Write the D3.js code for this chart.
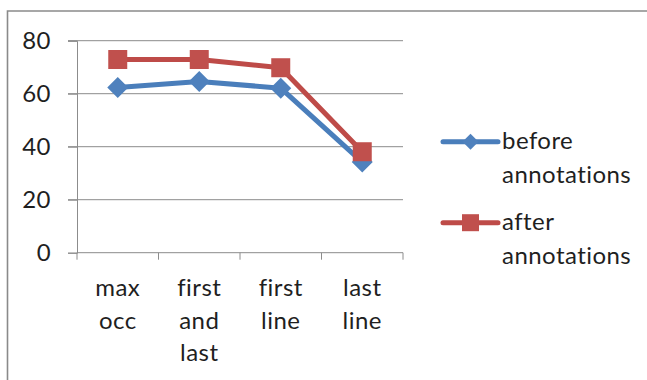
<!DOCTYPE html>
<html>
<head>
<meta charset="utf-8">
<script src="https://cdn.jsdelivr.net/npm/d3@7"></script>
<style>
  html, body { margin: 0; padding: 0; background: #fff; }
  svg { display: block; }
  text { font-family: Lato, "Open Sans", sans-serif; fill: #1f1f1f; font-variant-ligatures: none; letter-spacing: 0.45px; }
</style>
</head>
<body>
<svg id="chart" width="647" height="380"></svg>
<script>
// Category labels (each entry is the list of wrapped lines)
const categories = ["max occ", "first and last", "first line", "last line"];
const categoryLines = [["max", "occ"], ["first", "and", "last"], ["first", "line"], ["last", "line"]];

// Series values
const beforeValues = [62.3, 64.6, 62.1, 34.2];
const afterValues  = [72.9, 72.9, 69.8, 38.1];

const seriesNames = ["before annotations", "after annotations"];
const legendLines = [["before", "annotations"], ["after", "annotations"]];

// Y-axis ticks
const yTicks = [0, 20, 40, 60, 80];

const FONT = 24;

const svg = d3.select("#chart");

const plot = { left: 77, right: 403, top: 40.7, bottom: 252.7 };

const x = d3.scaleBand().domain(categories).range([plot.left, plot.right]).padding(0);
const y = d3.scaleLinear().domain([0, 80]).range([plot.bottom, plot.top]);

// Outer chart frame (top and left edges)
svg.append("path")
  .attr("d", `M7.5,380 L7.5,11 L647,11`)
  .attr("fill", "none")
  .attr("stroke", "#8a8a8a")
  .attr("stroke-width", 1.6);

// Horizontal gridlines
svg.append("g")
  .selectAll("line")
  .data(yTicks.filter(d => d > 0))
  .join("line")
  .attr("x1", plot.left - 9)
  .attr("x2", plot.right)
  .attr("y1", d => y(d))
  .attr("y2", d => y(d))
  .attr("stroke", "#8c8c8c")
  .attr("stroke-width", 1);

// Y axis
const yAxis = svg.append("g")
  .attr("transform", `translate(${plot.left},0)`)
  .call(d3.axisLeft(y).tickValues(yTicks).tickSize(9).tickPadding(17).tickFormat(d3.format("d")));
yAxis.select(".domain").attr("stroke", "#8c8c8c");
yAxis.selectAll(".tick line").attr("stroke", "#8c8c8c");
yAxis.selectAll(".tick text")
  .style("font-family", "Lato, 'Open Sans', sans-serif")
  .attr("font-size", FONT)
  .attr("fill", "#1f1f1f");

// X axis line with boundary ticks
const xAxisG = svg.append("g").attr("transform", `translate(0,${plot.bottom})`);
xAxisG.append("line")
  .attr("x1", plot.left).attr("x2", plot.right)
  .attr("stroke", "#8c8c8c").attr("stroke-width", 1);
const boundaries = categories.map(c => x(c)).concat([x(categories[categories.length - 1]) + x.bandwidth()]);
xAxisG.selectAll(".bt")
  .data(boundaries)
  .join("line")
  .attr("class", "bt")
  .attr("x1", d => d).attr("x2", d => d)
  .attr("y1", 0).attr("y2", 7)
  .attr("stroke", "#8c8c8c").attr("stroke-width", 1);

// Category labels
const catG = svg.append("g");
categories.forEach((c, i) => {
  const t = catG.append("text")
    .attr("text-anchor", "middle")
    .attr("font-size", FONT);
  categoryLines[i].forEach((line, j) => {
    t.append("tspan")
      .attr("x", x(c) + x.bandwidth() / 2)
      .attr("y", 296 + j * 32.5)
      .text(line);
  });
});

const cx = c => x(c) + x.bandwidth() / 2;
const lineGen = d3.line().x(d => cx(d.c)).y(d => y(d.v));

const series = [
  { name: seriesNames[0], values: beforeValues, line: "#4a7ebb", marker: "#4f81bd", shape: "diamond" },
  { name: seriesNames[1], values: afterValues,  line: "#be4b48", marker: "#c0504d", shape: "square" }
];

function markerPath(shape, size) {
  const h = size / 2;
  if (shape === "diamond") return `M0,${-h} L${h},0 L0,${h} L${-h},0 Z`;
  return `M${-h},${-h} H${h} V${h} H${-h} Z`;
}

series.forEach(s => {
  const pts = s.values.map((v, i) => ({ c: categories[i], v }));
  const g = svg.append("g");
  g.append("path")
    .datum(pts)
    .attr("d", lineGen)
    .attr("fill", "none")
    .attr("stroke", s.line)
    .attr("stroke-width", 5)
    .attr("stroke-linejoin", "round");
  g.selectAll("path.m")
    .data(pts)
    .join("path")
    .attr("class", "m")
    .attr("transform", d => `translate(${cx(d.c)},${y(d.v)})`)
    .attr("d", markerPath(s.shape, s.shape === "diamond" ? 21 : 19))
    .attr("fill", s.marker);
});

// Legend
const legendY = [141.7, 222.7];
series.forEach((s, i) => {
  const g = svg.append("g").attr("transform", `translate(0,${legendY[i]})`);
  g.append("line")
    .attr("x1", 443).attr("x2", 498)
    .attr("stroke", s.line).attr("stroke-width", 5)
    .attr("stroke-linecap", "round");
  g.append("path")
    .attr("transform", `translate(470.5,0)`)
    .attr("d", markerPath(s.shape, s.shape === "diamond" ? 16 : 17))
    .attr("fill", s.marker);
  const t = g.append("text").attr("font-size", FONT);
  legendLines[i].forEach((line, j) => {
    t.append("tspan").attr("x", 502).attr("y", 7.5 + j * 33.5).text(line);
  });
});
</script>
</body>
</html>
